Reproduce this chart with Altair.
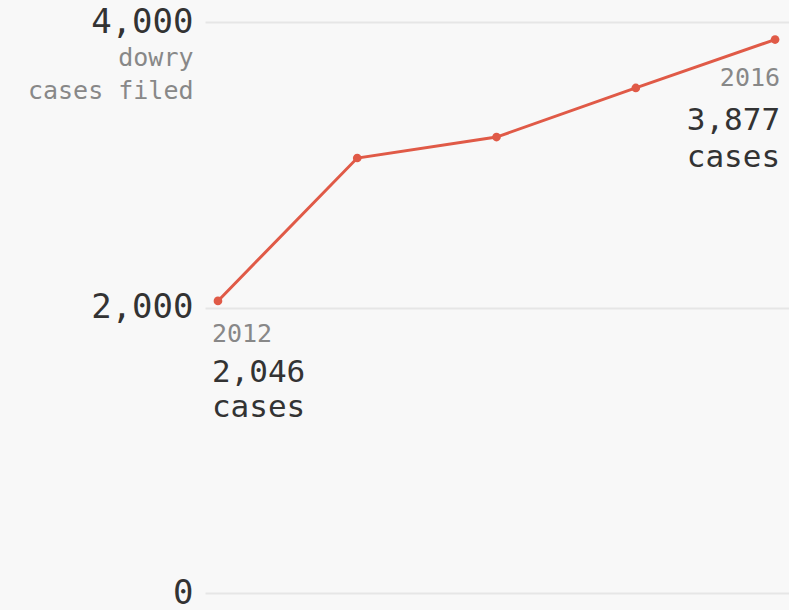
import altair as alt
import pandas as pd

years = [2012, 2013, 2014, 2015, 2016]
cases = [2046, 3047, 3194, 3538, 3877]

ann_years = [2012, 2016]
ann_values = [2046, 3877]
ann_year_labels = ["2012", "2016"]
ann_count_labels = ["2,046\ncases", "3,877\ncases"]

df = pd.DataFrame({"year": years, "cases": cases})
ann = pd.DataFrame({
    "year": ann_years,
    "cases": ann_values,
    "ylab": ann_year_labels,
    "clab": ann_count_labels,
})

FONT = "DejaVu Sans Mono"
RED = "#e05a47"

x = alt.X("year:Q", scale=alt.Scale(domain=[2011.907, 2016.1], nice=False, zero=False), axis=None)
y = alt.Y(
    "cases:Q",
    scale=alt.Scale(domain=[0, 4000], nice=False),
    axis=alt.Axis(
        values=[0, 2000, 4000],
        format=",d",
        domain=False,
        ticks=False,
        grid=True,
        gridColor="#e6e6e6",
        gridWidth=2,
        labelFont=FONT,
        labelFontSize=34,
        labelColor="#333333",
        labelPadding=12,
        labelBaseline="middle",
        title=["dowry", "cases filed"],
        titleFont=FONT,
        titleFontSize=25,
        titleFontWeight="normal",
        titleColor="#888888",
        titleAngle=0,
        titleAlign="right",
        titleBaseline="alphabetic",
        titleX=-12,
        titleY=43,
        titleLineHeight=33,
    ),
)

line = alt.Chart(df).mark_line(color=RED, strokeWidth=3).encode(x=x, y=y)
pts = alt.Chart(df).mark_point(color=RED, filled=True, opacity=1, size=75).encode(x=x, y=y)

left = ann[ann["year"] == 2012]
right = ann[ann["year"] == 2016]

l_year = alt.Chart(left).mark_text(font=FONT, fontSize=25, color="#888888", align="left",
                                   baseline="alphabetic", dx=-6, dy=41).encode(x=x, y=y, text="ylab:N")
l_cnt = alt.Chart(left).mark_text(font=FONT, fontSize=31, color="#333333", align="left",
                                  baseline="alphabetic", dx=-6, dy=81, lineBreak="\n",
                                  lineHeight=35).encode(x=x, y=y, text="clab:N")
r_year = alt.Chart(right).mark_text(font=FONT, fontSize=25, color="#888888", align="right",
                                    baseline="alphabetic", dx=5, dy=46).encode(x=x, y=y, text="ylab:N")
r_cnt = alt.Chart(right).mark_text(font=FONT, fontSize=31, color="#333333", align="right",
                                   baseline="alphabetic", dx=5, dy=90, lineBreak="\n",
                                   lineHeight=37).encode(x=x, y=y, text="clab:N")

chart = alt.layer(line, pts, l_year, l_cnt, r_year, r_cnt).properties(
    width=584,
    height=571,
    autosize=alt.AutoSizeParams(type="none"),
    padding={"left": 205, "top": 22, "right": 0, "bottom": 17},
    background="#f8f8f8",
).configure_view(stroke=None)

chart.save("out.html", embed_options={"renderer": "svg", "actions": False})
